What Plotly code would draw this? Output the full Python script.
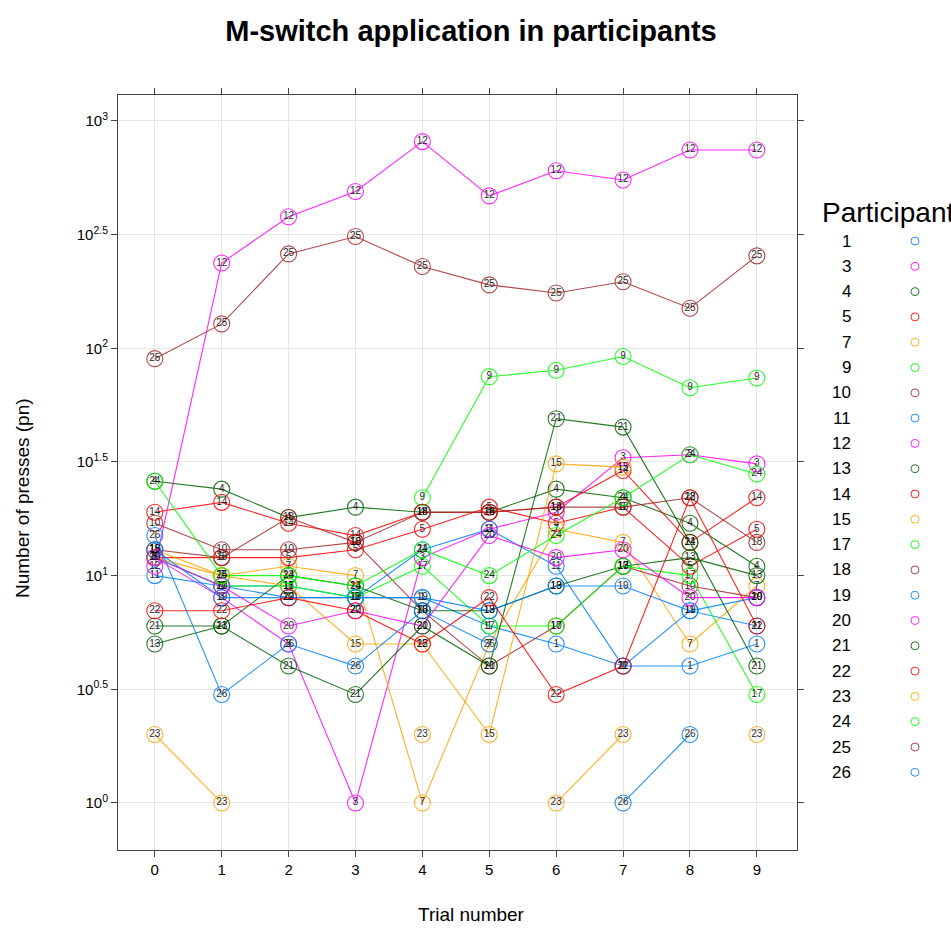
import plotly.graph_objects as go

trials = [0, 1, 2, 3, 4, 5, 6, 7, 8, 9]
participants = ["1", "3", "4", "5", "7", "9", "10", "11", "12", "13", "14",
                "15", "17", "18", "19", "20", "21", "22", "23", "24", "25", "26"]
N = None
p1 = [12, 9, 8, 8, 8, 6, 5, 4, 4, 5]
p3 = [12, 8, 5, 1, 12, 16, 19, 33, 34, 31]
p4 = [26, 24, 18, 20, 19, 19, 24, 22, 17, 11]
p5 = [12, 12, 12, 13, 16, 20, 17, 20, 11, 16]
p7 = [12, 10, 11, 10, 1, 5, 16, 14, 5, 9]
p9 = [N, N, N, N, 22, 75, 80, 92, 67, 74]
p10 = [17, 13, 13, 14, 7, 4, 6, 11, 9, 8]
p11 = [10, 9, 9, 8, 13, 16, 11, 4, 7, 6]
p12 = [11, 237, 379, 489, 811, 468, 604, 550, 745, 745]
p13 = [5, 6, 10, 9, 7, 7, 9, 11, 12, 10]
p14 = [19, 21, 17, 15, 19, 19, 20, 29, 14, 22]
p15 = [13, 10, 9, 5, 5, 2, 31, 30, N, N]
p17 = [12, 9, 9, 8, 11, 6, 6, 11, 10, 3]
p18 = [13, 12, 18, 14, 19, 19, 20, 20, 22, 14]
p19 = [13, 8, 8, 8, 8, 7, 9, 9, 7, 8]
p20 = [12, 9, 6, 7, 6, 15, 12, 13, 8, 8]
p21 = [6, 6, 4, 3, 6, 4, 49, 45, 14, 4]
p22 = [7, 7, 8, 7, 5, 8, 3, 4, 22, 6]
p23 = [2, 1, N, N, 2, N, 1, 2, N, 2]
p24 = [26, 10, 10, 9, 13, 10, 15, 22, 34, 28]
p25 = [90, 128, 260, 310, 229, 190, 175, 196, 150, 255]
p26 = [15, 3, 5, 4, 7, 5, N, 1, 2, N]

series = [p1, p3, p4, p5, p7, p9, p10, p11, p12, p13, p14,
          p15, p17, p18, p19, p20, p21, p22, p23, p24, p25, p26]

ytick_exp = ["0", "0.5", "1", "1.5", "2", "2.5", "3"]

palette = ["#0080ff", "#ff00ff", "#006400", "#ff0000", "#ffa500", "#00ff00", "#a52a2a"]

FONT = "Liberation Sans, Arial, Helvetica, sans-serif"

fig = go.Figure()
for i, (pid, vals) in enumerate(zip(participants, series)):
    col = palette[i % len(palette)]
    fig.add_trace(go.Scatter(
        x=trials, y=vals, mode="lines+markers+text",
        text=[pid] * len(vals),
        textposition="middle center",
        textfont=dict(family=FONT, size=10, color="black"),
        line=dict(color=col, width=1.1),
        marker=dict(symbol="circle-open", size=16, color=col, line=dict(width=1.1)),
        opacity=0.85, connectgaps=False, showlegend=False, cliponaxis=True,
    ))

tickvals = [10 ** float(e) for e in ytick_exp]
ticktext = ["10<sup>%s</sup>" % e for e in ytick_exp]

axis_common = dict(showline=True, linecolor="#444", linewidth=1, mirror="ticks",
                   ticks="outside", ticklen=6, tickcolor="#444",
                   showgrid=True, gridcolor="#e6e6e6", gridwidth=1, zeroline=False,
                   tickfont=dict(family=FONT, size=15, color="black"))

fig.update_xaxes(range=[-0.55, 9.6], tickvals=trials, ticktext=[str(t) for t in trials],
                 **axis_common)
fig.update_yaxes(type="log", range=[-0.207, 3.114], tickvals=tickvals, ticktext=ticktext,
                 **axis_common)

annotations = [
    dict(text="Trial number", x=(471 - 118) / 679, y=(850 - 914) / 755, xref="paper", yref="paper",
         xanchor="center", yanchor="middle", showarrow=False,
         font=dict(family=FONT, size=19, color="black")),
    dict(text="Number of presses (pn)", x=(22 - 118) / 679, y=(850 - 498) / 755,
         xref="paper", yref="paper",
         xanchor="center", yanchor="middle", showarrow=False, textangle=-90,
         font=dict(family=FONT, size=19, color="black")),
    dict(text="Participant", x=(820 - 118) / 679, y=(850 - 212) / 755, xref="paper", yref="paper",
         xanchor="left", yanchor="middle", showarrow=False,
         font=dict(family=FONT, size=28, color="black")),
]
shapes = []
for i, pid in enumerate(participants):
    ypix = 241 + i * 25.3
    yp = (850 - ypix) / 755
    annotations.append(dict(text=pid, x=(853 - 118) / 679, y=yp, xref="paper", yref="paper",
                            xanchor="right", yanchor="middle", showarrow=False,
                            font=dict(family=FONT, size=17, color="black")))
    col = palette[i % len(palette)]
    xc = (915 - 118) / 679
    shapes.append(dict(type="circle", xref="paper", yref="paper", xsizemode="pixel",
                       ysizemode="pixel", xanchor=xc, yanchor=yp,
                       x0=-4, x1=4, y0=-4, y1=4, line=dict(color=col, width=1),
                       opacity=0.85))

fig.update_layout(
    width=951, height=932,
    margin=dict(l=118, r=154, t=95, b=82),
    paper_bgcolor="white", plot_bgcolor="white",
    title=dict(text="<b>M-switch application in participants</b>", x=471 / 951, xanchor="center",
               y=1 - 31 / 932, yanchor="middle", font=dict(family=FONT, size=29, color="black")),
    annotations=annotations, shapes=shapes, showlegend=False,
)

fig.write_html("out.html")
